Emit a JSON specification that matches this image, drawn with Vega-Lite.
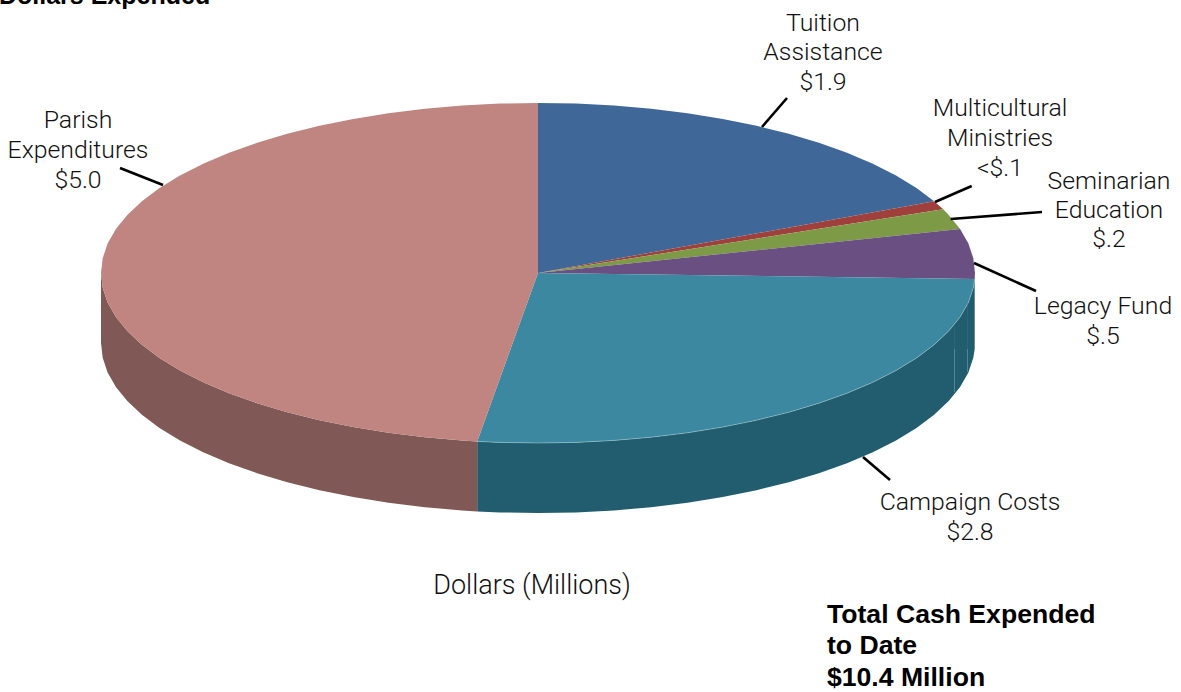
{"$schema":"https://vega.github.io/schema/vega-lite/v6.json","width":1181,"height":692,"padding":0,"autosize":{"type":"none"},"background":"white","config":{"view":{"stroke":null}},
"datasets":{
"tops":[
{"s":"Tuition Assistance","o":0,"x":538,"y":273},{"s":"Tuition Assistance","o":1,"x":538,"y":103},{"s":"Tuition Assistance","o":2,"x":576.1,"y":103.6},{"s":"Tuition Assistance","o":3,"x":613.9,"y":105.6},{"s":"Tuition Assistance","o":4,"x":651.1,"y":108.8},{"s":"Tuition Assistance","o":5,"x":687.5,"y":113.2},{"s":"Tuition Assistance","o":6,"x":722.7,"y":118.9},{"s":"Tuition Assistance","o":7,"x":756.5,"y":125.8},{"s":"Tuition Assistance","o":8,"x":788.7,"y":133.7},{"s":"Tuition Assistance","o":9,"x":818.9,"y":142.8},{"s":"Tuition Assistance","o":10,"x":847,"y":152.8},{"s":"Tuition Assistance","o":11,"x":872.8,"y":163.7},{"s":"Tuition Assistance","o":12,"x":896,"y":175.5},{"s":"Tuition Assistance","o":13,"x":916.5,"y":188},{"s":"Tuition Assistance","o":14,"x":934.1,"y":201.2},
{"s":"Multicultural Ministries","o":0,"x":538,"y":273},{"s":"Multicultural Ministries","o":1,"x":934.1,"y":201.2},{"s":"Multicultural Ministries","o":2,"x":943.2,"y":209.3},
{"s":"Seminarian Education","o":0,"x":538,"y":273},{"s":"Seminarian Education","o":1,"x":943.2,"y":209.3},{"s":"Seminarian Education","o":2,"x":948.7,"y":214.9},{"s":"Seminarian Education","o":3,"x":960.1,"y":229},
{"s":"Legacy Fund","o":0,"x":538,"y":273},{"s":"Legacy Fund","o":1,"x":960.1,"y":229},{"s":"Legacy Fund","o":2,"x":968.4,"y":243.5},{"s":"Legacy Fund","o":3,"x":973.3,"y":258.2},{"s":"Legacy Fund","o":4,"x":975,"y":273},{"s":"Legacy Fund","o":5,"x":974.7,"y":278.9},
{"s":"Campaign Costs","o":0,"x":538,"y":273},{"s":"Campaign Costs","o":1,"x":974.7,"y":278.9},{"s":"Campaign Costs","o":2,"x":973.3,"y":287.8},{"s":"Campaign Costs","o":3,"x":968.4,"y":302.5},{"s":"Campaign Costs","o":4,"x":960.1,"y":317},{"s":"Campaign Costs","o":5,"x":948.7,"y":331.1},{"s":"Campaign Costs","o":6,"x":934.1,"y":344.8},{"s":"Campaign Costs","o":7,"x":916.5,"y":358},{"s":"Campaign Costs","o":8,"x":896,"y":370.5},{"s":"Campaign Costs","o":9,"x":872.8,"y":382.3},{"s":"Campaign Costs","o":10,"x":847,"y":393.2},{"s":"Campaign Costs","o":11,"x":818.9,"y":403.2},{"s":"Campaign Costs","o":12,"x":788.7,"y":412.3},{"s":"Campaign Costs","o":13,"x":756.5,"y":420.2},{"s":"Campaign Costs","o":14,"x":722.7,"y":427.1},{"s":"Campaign Costs","o":15,"x":687.5,"y":432.8},{"s":"Campaign Costs","o":16,"x":651.1,"y":437.2},{"s":"Campaign Costs","o":17,"x":613.9,"y":440.4},{"s":"Campaign Costs","o":18,"x":576.1,"y":442.4},{"s":"Campaign Costs","o":19,"x":538,"y":443},{"s":"Campaign Costs","o":20,"x":499.9,"y":442.4},{"s":"Campaign Costs","o":21,"x":477.2,"y":441.4},
{"s":"Parish Expenditures","o":0,"x":538,"y":273},{"s":"Parish Expenditures","o":1,"x":477.2,"y":441.4},{"s":"Parish Expenditures","o":2,"x":462.1,"y":440.4},{"s":"Parish Expenditures","o":3,"x":424.9,"y":437.2},{"s":"Parish Expenditures","o":4,"x":388.5,"y":432.8},{"s":"Parish Expenditures","o":5,"x":353.3,"y":427.1},{"s":"Parish Expenditures","o":6,"x":319.5,"y":420.2},{"s":"Parish Expenditures","o":7,"x":287.3,"y":412.3},{"s":"Parish Expenditures","o":8,"x":257.1,"y":403.2},{"s":"Parish Expenditures","o":9,"x":229,"y":393.2},{"s":"Parish Expenditures","o":10,"x":203.2,"y":382.3},{"s":"Parish Expenditures","o":11,"x":180,"y":370.5},{"s":"Parish Expenditures","o":12,"x":159.5,"y":358},{"s":"Parish Expenditures","o":13,"x":141.9,"y":344.8},{"s":"Parish Expenditures","o":14,"x":127.3,"y":331.1},{"s":"Parish Expenditures","o":15,"x":115.9,"y":317},{"s":"Parish Expenditures","o":16,"x":107.6,"y":302.5},{"s":"Parish Expenditures","o":17,"x":102.7,"y":287.8},{"s":"Parish Expenditures","o":18,"x":101,"y":273},{"s":"Parish Expenditures","o":19,"x":102.7,"y":258.2},{"s":"Parish Expenditures","o":20,"x":107.6,"y":243.5},{"s":"Parish Expenditures","o":21,"x":115.9,"y":229},{"s":"Parish Expenditures","o":22,"x":127.3,"y":214.9},{"s":"Parish Expenditures","o":23,"x":141.9,"y":201.2},{"s":"Parish Expenditures","o":24,"x":159.5,"y":188},{"s":"Parish Expenditures","o":25,"x":180,"y":175.5},{"s":"Parish Expenditures","o":26,"x":203.2,"y":163.7},{"s":"Parish Expenditures","o":27,"x":229,"y":152.8},{"s":"Parish Expenditures","o":28,"x":257.1,"y":142.8},{"s":"Parish Expenditures","o":29,"x":287.3,"y":133.7},{"s":"Parish Expenditures","o":30,"x":319.5,"y":125.8},{"s":"Parish Expenditures","o":31,"x":353.3,"y":118.9},{"s":"Parish Expenditures","o":32,"x":388.5,"y":113.2},{"s":"Parish Expenditures","o":33,"x":424.9,"y":108.8},{"s":"Parish Expenditures","o":34,"x":462.1,"y":105.6},{"s":"Parish Expenditures","o":35,"x":499.9,"y":103.6},{"s":"Parish Expenditures","o":36,"x":538,"y":103}
],
"sides":[
{"s":"Campaign side","x":974.7,"y":278.9,"y2":348.9},{"s":"Campaign side","x":973.3,"y":287.8,"y2":357.8},{"s":"Campaign side","x":968.4,"y":302.5,"y2":372.5},{"s":"Campaign side","x":960.1,"y":317,"y2":387},{"s":"Campaign side","x":948.7,"y":331.1,"y2":401.1},{"s":"Campaign side","x":934.1,"y":344.8,"y2":414.8},{"s":"Campaign side","x":916.5,"y":358,"y2":428},{"s":"Campaign side","x":896,"y":370.5,"y2":440.5},{"s":"Campaign side","x":872.8,"y":382.3,"y2":452.3},{"s":"Campaign side","x":847,"y":393.2,"y2":463.2},{"s":"Campaign side","x":818.9,"y":403.2,"y2":473.2},{"s":"Campaign side","x":788.7,"y":412.3,"y2":482.3},{"s":"Campaign side","x":756.5,"y":420.2,"y2":490.2},{"s":"Campaign side","x":722.7,"y":427.1,"y2":497.1},{"s":"Campaign side","x":687.5,"y":432.8,"y2":502.8},{"s":"Campaign side","x":651.1,"y":437.2,"y2":507.2},{"s":"Campaign side","x":613.9,"y":440.4,"y2":510.4},{"s":"Campaign side","x":576.1,"y":442.4,"y2":512.4},{"s":"Campaign side","x":538,"y":443,"y2":513},{"s":"Campaign side","x":499.9,"y":442.4,"y2":512.4},{"s":"Campaign side","x":477.2,"y":441.4,"y2":511.4},
{"s":"Parish side","x":477.2,"y":441.4,"y2":511.4},{"s":"Parish side","x":462.1,"y":440.4,"y2":510.4},{"s":"Parish side","x":424.9,"y":437.2,"y2":507.2},{"s":"Parish side","x":388.5,"y":432.8,"y2":502.8},{"s":"Parish side","x":353.3,"y":427.1,"y2":497.1},{"s":"Parish side","x":319.5,"y":420.2,"y2":490.2},{"s":"Parish side","x":287.3,"y":412.3,"y2":482.3},{"s":"Parish side","x":257.1,"y":403.2,"y2":473.2},{"s":"Parish side","x":229,"y":393.2,"y2":463.2},{"s":"Parish side","x":203.2,"y":382.3,"y2":452.3},{"s":"Parish side","x":180,"y":370.5,"y2":440.5},{"s":"Parish side","x":159.5,"y":358,"y2":428},{"s":"Parish side","x":141.9,"y":344.8,"y2":414.8},{"s":"Parish side","x":127.3,"y":331.1,"y2":401.1},{"s":"Parish side","x":115.9,"y":317,"y2":387},{"s":"Parish side","x":107.6,"y":302.5,"y2":372.5},{"s":"Parish side","x":102.7,"y":287.8,"y2":357.8},{"s":"Parish side","x":101,"y":273,"y2":343}
],
"seams":[{"x":954.5,"y":349,"y2":392},{"x":967.5,"y":349,"y2":372}],
"darkSeams":[{"x":954.5,"y":327,"y2":349},{"x":967.5,"y":303,"y2":349}],
"leaders":[
{"s":"Tuition Assistance","x":762,"y":127,"x2":787,"y2":98},
{"s":"Multicultural Ministries","x":935,"y":202,"x2":971.7,"y2":186},
{"s":"Seminarian Education","x":950.7,"y":219,"x2":1042,"y2":212},
{"s":"Legacy Fund","x":974,"y":263,"x2":1036,"y2":291},
{"s":"Campaign Costs","x":863,"y":457,"x2":890,"y2":480},
{"s":"Parish Expenditures","x":120,"y":168,"x2":163,"y2":185}
],
"labels":[
{"t":"Tuition","x":823,"y":31},{"t":"Assistance","x":823,"y":60},{"t":"$1.9","x":823,"y":90},
{"t":"Multicultural","x":1000,"y":116},{"t":"Ministries","x":1000,"y":146},{"t":"<$.1","x":1000,"y":176},
{"t":"Seminarian","x":1109,"y":189},{"t":"Education","x":1109,"y":218},{"t":"$.2","x":1109,"y":247},
{"t":"Legacy Fund","x":1103,"y":314},{"t":"$.5","x":1103,"y":344},
{"t":"Campaign Costs","x":970,"y":510},{"t":"$2.8","x":970,"y":540},
{"t":"Parish","x":78,"y":128},{"t":"Expenditures","x":78,"y":158},{"t":"$5.0","x":78,"y":188}
],
"title":[{"t":"Dollars Expended","x":-1,"y":4}],
"bold":[
{"t":"Total Cash Expended","x":827,"y":623},{"t":"to Date","x":827,"y":654},{"t":"$10.4 Million","x":827,"y":686}
],
"axisTitle":[{"t":"Dollars (Millions)","x":532,"y":594}]
},
"layer":[
{"data":{"name":"sides"},"mark":{"type":"area","interpolate":"linear"},"encoding":{
"x":{"field":"x","type":"quantitative","scale":{"domain":[0,1181],"nice":false,"zero":false},"axis":null},
"y":{"field":"y","type":"quantitative","scale":{"domain":[692,0],"nice":false,"zero":false},"axis":null},
"y2":{"field":"y2"},
"color":{"field":"s","type":"nominal","legend":null,"scale":{"domain":["Campaign side","Parish side","Tuition Assistance","Multicultural Ministries","Seminarian Education","Legacy Fund","Campaign Costs","Parish Expenditures"],"range":["#215D6E","#805856","#3F6797","#A0403D","#7D9A47","#6A4F83","#3C88A0","#C08481"]}}}},
{"data":{"name":"darkSeams"},"mark":{"type":"rule","color":"#2A6677","strokeWidth":1},"encoding":{
"x":{"field":"x","type":"quantitative","axis":null},"y":{"field":"y","type":"quantitative","axis":null},"y2":{"field":"y2"}}},
{"data":{"name":"seams"},"mark":{"type":"rule","color":"#4E8797","strokeWidth":1},"encoding":{
"x":{"field":"x","type":"quantitative","axis":null},"y":{"field":"y","type":"quantitative","axis":null},"y2":{"field":"y2"}}},
{"data":{"name":"tops"},"mark":{"type":"line","filled":true,"strokeWidth":0,"interpolate":"linear"},"encoding":{
"x":{"field":"x","type":"quantitative","axis":null},"y":{"field":"y","type":"quantitative","axis":null},
"order":{"field":"o","type":"quantitative"},
"color":{"field":"s","type":"nominal","legend":null}}},
{"data":{"name":"tops"},"transform":[{"filter":"datum.s == 'Campaign Costs' && datum.o >= 1"}],"mark":{"type":"line","color":"#9CC3CF","strokeWidth":0.8,"opacity":0.7,"interpolate":"linear"},"encoding":{
"x":{"field":"x","type":"quantitative","axis":null},"y":{"field":"y","type":"quantitative","axis":null},
"order":{"field":"o","type":"quantitative"}}},
{"data":{"name":"leaders"},"mark":{"type":"rule","color":"black","strokeWidth":2.6},"encoding":{
"x":{"field":"x","type":"quantitative","axis":null},"y":{"field":"y","type":"quantitative","axis":null},"x2":{"field":"x2"},"y2":{"field":"y2"}}},
{"data":{"name":"labels"},"mark":{"type":"text","align":"center","baseline":"alphabetic","font":"Roboto","fontWeight":300,"fontSize":24.8,"color":"#111111"},"encoding":{
"x":{"field":"x","type":"quantitative","axis":null},"y":{"field":"y","type":"quantitative","axis":null},"text":{"field":"t"}}},
{"data":{"name":"axisTitle"},"mark":{"type":"text","align":"center","baseline":"alphabetic","font":"Roboto","fontWeight":300,"fontSize":27,"color":"#111111"},"encoding":{
"x":{"field":"x","type":"quantitative","axis":null},"y":{"field":"y","type":"quantitative","axis":null},"text":{"field":"t"}}},
{"data":{"name":"bold"},"mark":{"type":"text","align":"left","baseline":"alphabetic","font":"Liberation Sans","fontWeight":"bold","fontSize":26.6,"color":"black"},"encoding":{
"x":{"field":"x","type":"quantitative","axis":null},"y":{"field":"y","type":"quantitative","axis":null},"text":{"field":"t"}}},
{"data":{"name":"title"},"mark":{"type":"text","align":"left","baseline":"alphabetic","font":"Liberation Sans","fontWeight":"bold","fontSize":25,"color":"black"},"encoding":{
"x":{"field":"x","type":"quantitative","axis":null},"y":{"field":"y","type":"quantitative","axis":null},"text":{"field":"t"}}}
]}
